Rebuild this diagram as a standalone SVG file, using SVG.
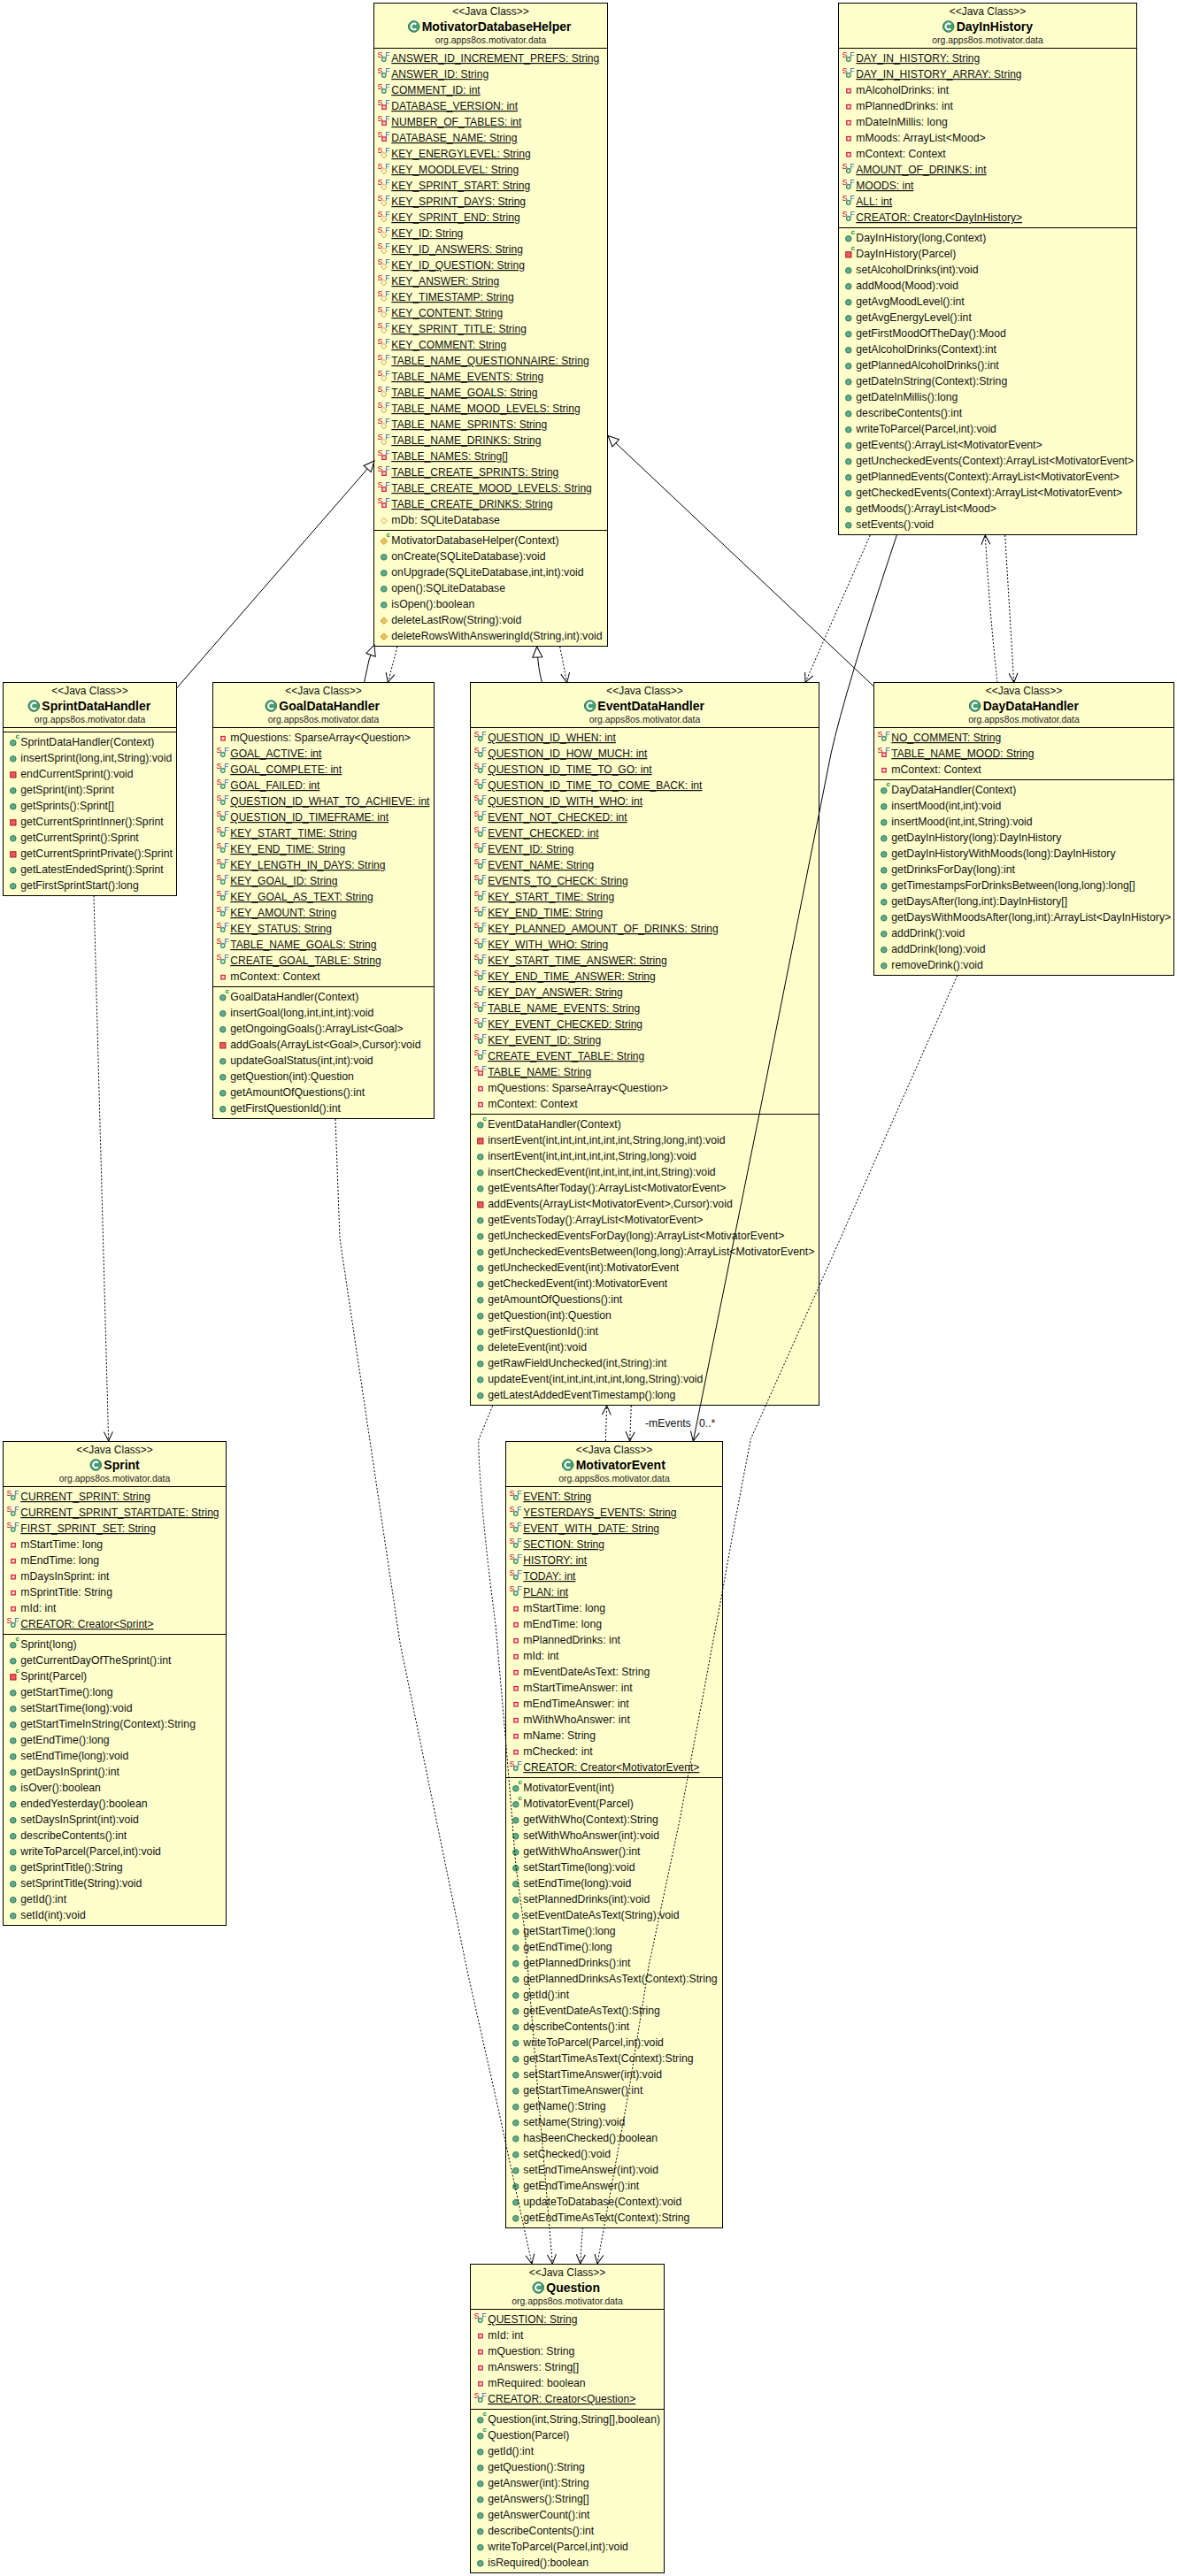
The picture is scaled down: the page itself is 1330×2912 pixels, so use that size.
<svg xmlns="http://www.w3.org/2000/svg" width="1330" height="2912" viewBox="0 0 1330 2912">
<style>
text{font-family:"Liberation Sans",Arial,sans-serif;font-size:12.25px;fill:#111}
.u{font-size:12.05px;text-decoration:underline}
.s{text-anchor:middle;font-size:12px}
.p{text-anchor:middle;font-size:10.4px;fill:#222}
.t{font-weight:bold;font-size:14px;fill:#000}
.box{fill:#ffffcc;stroke:#000;stroke-width:1}
.d{stroke:#000;stroke-width:1;fill:none}
.iS{font-size:9px;fill:#c8003c}
.iF{font-size:9px;fill:#2a66b8}
.ic{font-size:8px;font-weight:bold;fill:#0a8a3c}
.con{fill:none;stroke:#000;stroke-width:1}
.dep{stroke-dasharray:2 2;marker-end:url(#v)}
.gen{marker-end:url(#tri)}
.ass{marker-end:url(#v)}
</style>
<defs>
<marker id="v" markerUnits="userSpaceOnUse" markerWidth="14" markerHeight="14" refX="12" refY="7" orient="auto"><path d="M1.5,2 L12,7 L1.5,12" fill="none" stroke="#000"/></marker>
<marker id="tri" markerUnits="userSpaceOnUse" markerWidth="16" markerHeight="16" refX="14" refY="8" orient="auto"><path d="M2,2.5 L14,8 L2,13.5 Z" fill="#fff" stroke="#000"/></marker>
<g id="ring"><circle cx="11.3" cy="12.5" r="2.3" fill="#d8eedc" stroke="#2e8b60" stroke-width="1.2"/></g>
<g id="sq"><rect x="9.3" y="10" width="4.4" height="4.4" fill="#fbdada" stroke="#d8213c" stroke-width="1.3"/></g>
<g id="dia"><path d="M11.3,8.8 L14.6,12.1 L11.3,15.4 L8,12.1 Z" fill="#fff8d8" stroke="#d49a30"/></g>
<g id="S"><text class="iS" x="4.1" y="10.5">S</text><text class="iF" x="12.8" y="10">F</text></g>
<g id="sfu"><use href="#S"/><use href="#ring"/></g>
<g id="sfp"><use href="#S"/><use href="#sq" y="0.5"/></g>
<g id="sfd"><use href="#S"/><use href="#dia" y="1"/></g>
<g id="fp"><use href="#sq"/></g>
<g id="fd"><use href="#dia"/></g>
<g id="mu"><circle cx="11.3" cy="12.3" r="3.3" fill="#62ab8a" stroke="#2f7d5c"/></g>
<g id="mp"><rect x="8.2" y="9.2" width="6.3" height="6.3" fill="#e85c5c" stroke="#b31c2c"/></g>
<g id="md"><path d="M11.3,8.4 L15,12.3 L11.3,16 L7.6,12.3 Z" fill="#f2c35e" stroke="#c99020"/></g>
<g id="c"><text class="ic" x="14" y="7.5">c</text></g>
<g id="cu"><use href="#mu"/><use href="#c"/></g>
<g id="cp"><use href="#mp"/><use href="#c"/></g>
<g id="cd"><use href="#md"/><use href="#c"/></g>
<g id="cl"><circle r="6.3" fill="#4a9c74" stroke="#2c7a56"/><path d="M2.6,-2.4 A3.4,3.4 0 1 0 2.6,2.4" fill="none" stroke="#fff" stroke-width="2"/></g>
</defs>
<rect width="1330" height="2912" fill="#fff"/>

<g id="MotivatorDatabaseHelper">
<rect class="box" x="422.5" y="3.5" width="264" height="727"/>
<path class="d" d="M422.5,54.5H686.5M422.5,599.5H686.5"/>
<text class="s" x="554.5" y="17">&lt;&lt;Java Class&gt;&gt;</text>
<use href="#cl" x="467.7" y="30"/><text class="t" x="476.7" y="35">MotivatorDatabaseHelper</text>
<text class="p" x="554.5" y="49">org.apps8os.motivator.data</text>
<g transform="translate(422.5,54.5)">
<use href="#sfu"/><text class="u" x="19.8" y="15.5">ANSWER_ID_INCREMENT_PREFS: String</text>
<use href="#sfu" y="18"/><text class="u" x="19.8" y="33.5">ANSWER_ID: String</text>
<use href="#sfu" y="36"/><text class="u" x="19.8" y="51.5">COMMENT_ID: int</text>
<use href="#sfp" y="54"/><text class="u" x="19.8" y="69.5">DATABASE_VERSION: int</text>
<use href="#sfp" y="72"/><text class="u" x="19.8" y="87.5">NUMBER_OF_TABLES: int</text>
<use href="#sfp" y="90"/><text class="u" x="19.8" y="105.5">DATABASE_NAME: String</text>
<use href="#sfd" y="108"/><text class="u" x="19.8" y="123.5">KEY_ENERGYLEVEL: String</text>
<use href="#sfd" y="126"/><text class="u" x="19.8" y="141.5">KEY_MOODLEVEL: String</text>
<use href="#sfd" y="144"/><text class="u" x="19.8" y="159.5">KEY_SPRINT_START: String</text>
<use href="#sfd" y="162"/><text class="u" x="19.8" y="177.5">KEY_SPRINT_DAYS: String</text>
<use href="#sfd" y="180"/><text class="u" x="19.8" y="195.5">KEY_SPRINT_END: String</text>
<use href="#sfd" y="198"/><text class="u" x="19.8" y="213.5">KEY_ID: String</text>
<use href="#sfd" y="216"/><text class="u" x="19.8" y="231.5">KEY_ID_ANSWERS: String</text>
<use href="#sfd" y="234"/><text class="u" x="19.8" y="249.5">KEY_ID_QUESTION: String</text>
<use href="#sfd" y="252"/><text class="u" x="19.8" y="267.5">KEY_ANSWER: String</text>
<use href="#sfd" y="270"/><text class="u" x="19.8" y="285.5">KEY_TIMESTAMP: String</text>
<use href="#sfd" y="288"/><text class="u" x="19.8" y="303.5">KEY_CONTENT: String</text>
<use href="#sfd" y="306"/><text class="u" x="19.8" y="321.5">KEY_SPRINT_TITLE: String</text>
<use href="#sfd" y="324"/><text class="u" x="19.8" y="339.5">KEY_COMMENT: String</text>
<use href="#sfd" y="342"/><text class="u" x="19.8" y="357.5">TABLE_NAME_QUESTIONNAIRE: String</text>
<use href="#sfd" y="360"/><text class="u" x="19.8" y="375.5">TABLE_NAME_EVENTS: String</text>
<use href="#sfd" y="378"/><text class="u" x="19.8" y="393.5">TABLE_NAME_GOALS: String</text>
<use href="#sfd" y="396"/><text class="u" x="19.8" y="411.5">TABLE_NAME_MOOD_LEVELS: String</text>
<use href="#sfd" y="414"/><text class="u" x="19.8" y="429.5">TABLE_NAME_SPRINTS: String</text>
<use href="#sfd" y="432"/><text class="u" x="19.8" y="447.5">TABLE_NAME_DRINKS: String</text>
<use href="#sfp" y="450"/><text class="u" x="19.8" y="465.5">TABLE_NAMES: String[]</text>
<use href="#sfp" y="468"/><text class="u" x="19.8" y="483.5">TABLE_CREATE_SPRINTS: String</text>
<use href="#sfp" y="486"/><text class="u" x="19.8" y="501.5">TABLE_CREATE_MOOD_LEVELS: String</text>
<use href="#sfp" y="504"/><text class="u" x="19.8" y="519.5">TABLE_CREATE_DRINKS: String</text>
<use href="#fd" y="522"/><text x="19.8" y="537.5">mDb: SQLiteDatabase</text>
</g>
<g transform="translate(422.5,599.5)">
<use href="#cd"/><text x="19.8" y="15.5">MotivatorDatabaseHelper(Context)</text>
<use href="#mu" y="18"/><text x="19.8" y="33.5">onCreate(SQLiteDatabase):void</text>
<use href="#mu" y="36"/><text x="19.8" y="51.5">onUpgrade(SQLiteDatabase,int,int):void</text>
<use href="#mu" y="54"/><text x="19.8" y="69.5">open():SQLiteDatabase</text>
<use href="#mu" y="72"/><text x="19.8" y="87.5">isOpen():boolean</text>
<use href="#md" y="90"/><text x="19.8" y="105.5">deleteLastRow(String):void</text>
<use href="#md" y="108"/><text x="19.8" y="123.5">deleteRowsWithAnsweringId(String,int):void</text>
</g>
</g>

<g id="DayInHistory">
<rect class="box" x="947.5" y="3.5" width="337" height="601"/>
<path class="d" d="M947.5,54.5H1284.5M947.5,257.5H1284.5"/>
<text class="s" x="1116" y="17">&lt;&lt;Java Class&gt;&gt;</text>
<use href="#cl" x="1071.7" y="30"/><text class="t" x="1080.7" y="35">DayInHistory</text>
<text class="p" x="1116" y="49">org.apps8os.motivator.data</text>
<g transform="translate(947.5,54.5)">
<use href="#sfu"/><text class="u" x="19.8" y="15.5">DAY_IN_HISTORY: String</text>
<use href="#sfu" y="18"/><text class="u" x="19.8" y="33.5">DAY_IN_HISTORY_ARRAY: String</text>
<use href="#fp" y="36"/><text x="19.8" y="51.5">mAlcoholDrinks: int</text>
<use href="#fp" y="54"/><text x="19.8" y="69.5">mPlannedDrinks: int</text>
<use href="#fp" y="72"/><text x="19.8" y="87.5">mDateInMillis: long</text>
<use href="#fp" y="90"/><text x="19.8" y="105.5">mMoods: ArrayList&lt;Mood&gt;</text>
<use href="#fp" y="108"/><text x="19.8" y="123.5">mContext: Context</text>
<use href="#sfu" y="126"/><text class="u" x="19.8" y="141.5">AMOUNT_OF_DRINKS: int</text>
<use href="#sfu" y="144"/><text class="u" x="19.8" y="159.5">MOODS: int</text>
<use href="#sfu" y="162"/><text class="u" x="19.8" y="177.5">ALL: int</text>
<use href="#sfu" y="180"/><text class="u" x="19.8" y="195.5">CREATOR: Creator&lt;DayInHistory&gt;</text>
</g>
<g transform="translate(947.5,257.5)">
<use href="#cu"/><text x="19.8" y="15.5">DayInHistory(long,Context)</text>
<use href="#cp" y="18"/><text x="19.8" y="33.5">DayInHistory(Parcel)</text>
<use href="#mu" y="36"/><text x="19.8" y="51.5">setAlcoholDrinks(int):void</text>
<use href="#mu" y="54"/><text x="19.8" y="69.5">addMood(Mood):void</text>
<use href="#mu" y="72"/><text x="19.8" y="87.5">getAvgMoodLevel():int</text>
<use href="#mu" y="90"/><text x="19.8" y="105.5">getAvgEnergyLevel():int</text>
<use href="#mu" y="108"/><text x="19.8" y="123.5">getFirstMoodOfTheDay():Mood</text>
<use href="#mu" y="126"/><text x="19.8" y="141.5">getAlcoholDrinks(Context):int</text>
<use href="#mu" y="144"/><text x="19.8" y="159.5">getPlannedAlcoholDrinks():int</text>
<use href="#mu" y="162"/><text x="19.8" y="177.5">getDateInString(Context):String</text>
<use href="#mu" y="180"/><text x="19.8" y="195.5">getDateInMillis():long</text>
<use href="#mu" y="198"/><text x="19.8" y="213.5">describeContents():int</text>
<use href="#mu" y="216"/><text x="19.8" y="231.5">writeToParcel(Parcel,int):void</text>
<use href="#mu" y="234"/><text x="19.8" y="249.5">getEvents():ArrayList&lt;MotivatorEvent&gt;</text>
<use href="#mu" y="252"/><text x="19.8" y="267.5">getUncheckedEvents(Context):ArrayList&lt;MotivatorEvent&gt;</text>
<use href="#mu" y="270"/><text x="19.8" y="285.5">getPlannedEvents(Context):ArrayList&lt;MotivatorEvent&gt;</text>
<use href="#mu" y="288"/><text x="19.8" y="303.5">getCheckedEvents(Context):ArrayList&lt;MotivatorEvent&gt;</text>
<use href="#mu" y="306"/><text x="19.8" y="321.5">getMoods():ArrayList&lt;Mood&gt;</text>
<use href="#mu" y="324"/><text x="19.8" y="339.5">setEvents():void</text>
</g>
</g>

<g id="SprintDataHandler">
<rect class="box" x="3.5" y="771.5" width="196" height="241"/>
<path class="d" d="M3.5,822.5H199.5M3.5,827.5H199.5"/>
<text class="s" x="101.5" y="785">&lt;&lt;Java Class&gt;&gt;</text>
<use href="#cl" x="38.3" y="798"/><text class="t" x="47.3" y="803">SprintDataHandler</text>
<text class="p" x="101.5" y="817">org.apps8os.motivator.data</text>
<g transform="translate(3.5,827.5)">
<use href="#cu"/><text x="19.8" y="15.5">SprintDataHandler(Context)</text>
<use href="#mu" y="18"/><text x="19.8" y="33.5">insertSprint(long,int,String):void</text>
<use href="#mp" y="36"/><text x="19.8" y="51.5">endCurrentSprint():void</text>
<use href="#mu" y="54"/><text x="19.8" y="69.5">getSprint(int):Sprint</text>
<use href="#mu" y="72"/><text x="19.8" y="87.5">getSprints():Sprint[]</text>
<use href="#mp" y="90"/><text x="19.8" y="105.5">getCurrentSprintInner():Sprint</text>
<use href="#mu" y="108"/><text x="19.8" y="123.5">getCurrentSprint():Sprint</text>
<use href="#mp" y="126"/><text x="19.8" y="141.5">getCurrentSprintPrivate():Sprint</text>
<use href="#mu" y="144"/><text x="19.8" y="159.5">getLatestEndedSprint():Sprint</text>
<use href="#mu" y="162"/><text x="19.8" y="177.5">getFirstSprintStart():long</text>
</g>
</g>

<g id="GoalDataHandler">
<rect class="box" x="240.5" y="771.5" width="250" height="493"/>
<path class="d" d="M240.5,822.5H490.5M240.5,1115.5H490.5"/>
<text class="s" x="365.5" y="785">&lt;&lt;Java Class&gt;&gt;</text>
<use href="#cl" x="306.3" y="798"/><text class="t" x="315.3" y="803">GoalDataHandler</text>
<text class="p" x="365.5" y="817">org.apps8os.motivator.data</text>
<g transform="translate(240.5,822.5)">
<use href="#fp"/><text x="19.8" y="15.5">mQuestions: SparseArray&lt;Question&gt;</text>
<use href="#sfu" y="18"/><text class="u" x="19.8" y="33.5">GOAL_ACTIVE: int</text>
<use href="#sfu" y="36"/><text class="u" x="19.8" y="51.5">GOAL_COMPLETE: int</text>
<use href="#sfu" y="54"/><text class="u" x="19.8" y="69.5">GOAL_FAILED: int</text>
<use href="#sfu" y="72"/><text class="u" x="19.8" y="87.5">QUESTION_ID_WHAT_TO_ACHIEVE: int</text>
<use href="#sfu" y="90"/><text class="u" x="19.8" y="105.5">QUESTION_ID_TIMEFRAME: int</text>
<use href="#sfu" y="108"/><text class="u" x="19.8" y="123.5">KEY_START_TIME: String</text>
<use href="#sfu" y="126"/><text class="u" x="19.8" y="141.5">KEY_END_TIME: String</text>
<use href="#sfu" y="144"/><text class="u" x="19.8" y="159.5">KEY_LENGTH_IN_DAYS: String</text>
<use href="#sfu" y="162"/><text class="u" x="19.8" y="177.5">KEY_GOAL_ID: String</text>
<use href="#sfu" y="180"/><text class="u" x="19.8" y="195.5">KEY_GOAL_AS_TEXT: String</text>
<use href="#sfu" y="198"/><text class="u" x="19.8" y="213.5">KEY_AMOUNT: String</text>
<use href="#sfu" y="216"/><text class="u" x="19.8" y="231.5">KEY_STATUS: String</text>
<use href="#sfu" y="234"/><text class="u" x="19.8" y="249.5">TABLE_NAME_GOALS: String</text>
<use href="#sfu" y="252"/><text class="u" x="19.8" y="267.5">CREATE_GOAL_TABLE: String</text>
<use href="#fp" y="270"/><text x="19.8" y="285.5">mContext: Context</text>
</g>
<g transform="translate(240.5,1115.5)">
<use href="#cu"/><text x="19.8" y="15.5">GoalDataHandler(Context)</text>
<use href="#mu" y="18"/><text x="19.8" y="33.5">insertGoal(long,int,int,int):void</text>
<use href="#mu" y="36"/><text x="19.8" y="51.5">getOngoingGoals():ArrayList&lt;Goal&gt;</text>
<use href="#mp" y="54"/><text x="19.8" y="69.5">addGoals(ArrayList&lt;Goal&gt;,Cursor):void</text>
<use href="#mu" y="72"/><text x="19.8" y="87.5">updateGoalStatus(int,int):void</text>
<use href="#mu" y="90"/><text x="19.8" y="105.5">getQuestion(int):Question</text>
<use href="#mu" y="108"/><text x="19.8" y="123.5">getAmountOfQuestions():int</text>
<use href="#mu" y="126"/><text x="19.8" y="141.5">getFirstQuestionId():int</text>
</g>
</g>

<g id="EventDataHandler">
<rect class="box" x="531.5" y="771.5" width="394" height="817"/>
<path class="d" d="M531.5,822.5H925.5M531.5,1259.5H925.5"/>
<text class="s" x="728.5" y="785">&lt;&lt;Java Class&gt;&gt;</text>
<use href="#cl" x="666.7" y="798"/><text class="t" x="675.3" y="803">EventDataHandler</text>
<text class="p" x="728.5" y="817">org.apps8os.motivator.data</text>
<g transform="translate(531.5,822.5)">
<use href="#sfu"/><text class="u" x="19.8" y="15.5">QUESTION_ID_WHEN: int</text>
<use href="#sfu" y="18"/><text class="u" x="19.8" y="33.5">QUESTION_ID_HOW_MUCH: int</text>
<use href="#sfu" y="36"/><text class="u" x="19.8" y="51.5">QUESTION_ID_TIME_TO_GO: int</text>
<use href="#sfu" y="54"/><text class="u" x="19.8" y="69.5">QUESTION_ID_TIME_TO_COME_BACK: int</text>
<use href="#sfu" y="72"/><text class="u" x="19.8" y="87.5">QUESTION_ID_WITH_WHO: int</text>
<use href="#sfu" y="90"/><text class="u" x="19.8" y="105.5">EVENT_NOT_CHECKED: int</text>
<use href="#sfu" y="108"/><text class="u" x="19.8" y="123.5">EVENT_CHECKED: int</text>
<use href="#sfu" y="126"/><text class="u" x="19.8" y="141.5">EVENT_ID: String</text>
<use href="#sfu" y="144"/><text class="u" x="19.8" y="159.5">EVENT_NAME: String</text>
<use href="#sfu" y="162"/><text class="u" x="19.8" y="177.5">EVENTS_TO_CHECK: String</text>
<use href="#sfu" y="180"/><text class="u" x="19.8" y="195.5">KEY_START_TIME: String</text>
<use href="#sfu" y="198"/><text class="u" x="19.8" y="213.5">KEY_END_TIME: String</text>
<use href="#sfu" y="216"/><text class="u" x="19.8" y="231.5">KEY_PLANNED_AMOUNT_OF_DRINKS: String</text>
<use href="#sfu" y="234"/><text class="u" x="19.8" y="249.5">KEY_WITH_WHO: String</text>
<use href="#sfu" y="252"/><text class="u" x="19.8" y="267.5">KEY_START_TIME_ANSWER: String</text>
<use href="#sfu" y="270"/><text class="u" x="19.8" y="285.5">KEY_END_TIME_ANSWER: String</text>
<use href="#sfu" y="288"/><text class="u" x="19.8" y="303.5">KEY_DAY_ANSWER: String</text>
<use href="#sfu" y="306"/><text class="u" x="19.8" y="321.5">TABLE_NAME_EVENTS: String</text>
<use href="#sfu" y="324"/><text class="u" x="19.8" y="339.5">KEY_EVENT_CHECKED: String</text>
<use href="#sfu" y="342"/><text class="u" x="19.8" y="357.5">KEY_EVENT_ID: String</text>
<use href="#sfu" y="360"/><text class="u" x="19.8" y="375.5">CREATE_EVENT_TABLE: String</text>
<use href="#sfp" y="378"/><text class="u" x="19.8" y="393.5">TABLE_NAME: String</text>
<use href="#fp" y="396"/><text x="19.8" y="411.5">mQuestions: SparseArray&lt;Question&gt;</text>
<use href="#fp" y="414"/><text x="19.8" y="429.5">mContext: Context</text>
</g>
<g transform="translate(531.5,1259.5)">
<use href="#cu"/><text x="19.8" y="15.5">EventDataHandler(Context)</text>
<use href="#mp" y="18"/><text x="19.8" y="33.5">insertEvent(int,int,int,int,int,int,String,long,int):void</text>
<use href="#mu" y="36"/><text x="19.8" y="51.5">insertEvent(int,int,int,int,int,String,long):void</text>
<use href="#mu" y="54"/><text x="19.8" y="69.5">insertCheckedEvent(int,int,int,int,int,String):void</text>
<use href="#mu" y="72"/><text x="19.8" y="87.5">getEventsAfterToday():ArrayList&lt;MotivatorEvent&gt;</text>
<use href="#mp" y="90"/><text x="19.8" y="105.5">addEvents(ArrayList&lt;MotivatorEvent&gt;,Cursor):void</text>
<use href="#mu" y="108"/><text x="19.8" y="123.5">getEventsToday():ArrayList&lt;MotivatorEvent&gt;</text>
<use href="#mu" y="126"/><text x="19.8" y="141.5">getUncheckedEventsForDay(long):ArrayList&lt;MotivatorEvent&gt;</text>
<use href="#mu" y="144"/><text x="19.8" y="159.5">getUncheckedEventsBetween(long,long):ArrayList&lt;MotivatorEvent&gt;</text>
<use href="#mu" y="162"/><text x="19.8" y="177.5">getUncheckedEvent(int):MotivatorEvent</text>
<use href="#mu" y="180"/><text x="19.8" y="195.5">getCheckedEvent(int):MotivatorEvent</text>
<use href="#mu" y="198"/><text x="19.8" y="213.5">getAmountOfQuestions():int</text>
<use href="#mu" y="216"/><text x="19.8" y="231.5">getQuestion(int):Question</text>
<use href="#mu" y="234"/><text x="19.8" y="249.5">getFirstQuestionId():int</text>
<use href="#mu" y="252"/><text x="19.8" y="267.5">deleteEvent(int):void</text>
<use href="#mu" y="270"/><text x="19.8" y="285.5">getRawFieldUnchecked(int,String):int</text>
<use href="#mu" y="288"/><text x="19.8" y="303.5">updateEvent(int,int,int,int,int,long,String):void</text>
<use href="#mu" y="306"/><text x="19.8" y="321.5">getLatestAddedEventTimestamp():long</text>
</g>
</g>

<g id="DayDataHandler">
<rect class="box" x="987.5" y="771.5" width="339" height="331"/>
<path class="d" d="M987.5,822.5H1326.5M987.5,881.5H1326.5"/>
<text class="s" x="1157" y="785">&lt;&lt;Java Class&gt;&gt;</text>
<use href="#cl" x="1101.7" y="798"/><text class="t" x="1110.7" y="803">DayDataHandler</text>
<text class="p" x="1157" y="817">org.apps8os.motivator.data</text>
<g transform="translate(987.5,822.5)">
<use href="#sfu"/><text class="u" x="19.8" y="15.5">NO_COMMENT: String</text>
<use href="#sfp" y="18"/><text class="u" x="19.8" y="33.5">TABLE_NAME_MOOD: String</text>
<use href="#fp" y="36"/><text x="19.8" y="51.5">mContext: Context</text>
</g>
<g transform="translate(987.5,881.5)">
<use href="#cu"/><text x="19.8" y="15.5">DayDataHandler(Context)</text>
<use href="#mu" y="18"/><text x="19.8" y="33.5">insertMood(int,int):void</text>
<use href="#mu" y="36"/><text x="19.8" y="51.5">insertMood(int,int,String):void</text>
<use href="#mu" y="54"/><text x="19.8" y="69.5">getDayInHistory(long):DayInHistory</text>
<use href="#mu" y="72"/><text x="19.8" y="87.5">getDayInHistoryWithMoods(long):DayInHistory</text>
<use href="#mu" y="90"/><text x="19.8" y="105.5">getDrinksForDay(long):int</text>
<use href="#mu" y="108"/><text x="19.8" y="123.5">getTimestampsForDrinksBetween(long,long):long[]</text>
<use href="#mu" y="126"/><text x="19.8" y="141.5">getDaysAfter(long,int):DayInHistory[]</text>
<use href="#mu" y="144"/><text x="19.8" y="159.5">getDaysWithMoodsAfter(long,int):ArrayList&lt;DayInHistory&gt;</text>
<use href="#mu" y="162"/><text x="19.8" y="177.5">addDrink():void</text>
<use href="#mu" y="180"/><text x="19.8" y="195.5">addDrink(long):void</text>
<use href="#mu" y="198"/><text x="19.8" y="213.5">removeDrink():void</text>
</g>
</g>

<g id="Sprint">
<rect class="box" x="3.5" y="1629.5" width="252" height="547"/>
<path class="d" d="M3.5,1680.5H255.5M3.5,1847.5H255.5"/>
<text class="s" x="129.5" y="1643">&lt;&lt;Java Class&gt;&gt;</text>
<use href="#cl" x="108.3" y="1656"/><text class="t" x="117.3" y="1661">Sprint</text>
<text class="p" x="129.5" y="1675">org.apps8os.motivator.data</text>
<g transform="translate(3.5,1680.5)">
<use href="#sfu"/><text class="u" x="19.8" y="15.5">CURRENT_SPRINT: String</text>
<use href="#sfu" y="18"/><text class="u" x="19.8" y="33.5">CURRENT_SPRINT_STARTDATE: String</text>
<use href="#sfu" y="36"/><text class="u" x="19.8" y="51.5">FIRST_SPRINT_SET: String</text>
<use href="#fp" y="54"/><text x="19.8" y="69.5">mStartTime: long</text>
<use href="#fp" y="72"/><text x="19.8" y="87.5">mEndTime: long</text>
<use href="#fp" y="90"/><text x="19.8" y="105.5">mDaysInSprint: int</text>
<use href="#fp" y="108"/><text x="19.8" y="123.5">mSprintTitle: String</text>
<use href="#fp" y="126"/><text x="19.8" y="141.5">mId: int</text>
<use href="#sfu" y="144"/><text class="u" x="19.8" y="159.5">CREATOR: Creator&lt;Sprint&gt;</text>
</g>
<g transform="translate(3.5,1847.5)">
<use href="#cu"/><text x="19.8" y="15.5">Sprint(long)</text>
<use href="#mu" y="18"/><text x="19.8" y="33.5">getCurrentDayOfTheSprint():int</text>
<use href="#cp" y="36"/><text x="19.8" y="51.5">Sprint(Parcel)</text>
<use href="#mu" y="54"/><text x="19.8" y="69.5">getStartTime():long</text>
<use href="#mu" y="72"/><text x="19.8" y="87.5">setStartTime(long):void</text>
<use href="#mu" y="90"/><text x="19.8" y="105.5">getStartTimeInString(Context):String</text>
<use href="#mu" y="108"/><text x="19.8" y="123.5">getEndTime():long</text>
<use href="#mu" y="126"/><text x="19.8" y="141.5">setEndTime(long):void</text>
<use href="#mu" y="144"/><text x="19.8" y="159.5">getDaysInSprint():int</text>
<use href="#mu" y="162"/><text x="19.8" y="177.5">isOver():boolean</text>
<use href="#mu" y="180"/><text x="19.8" y="195.5">endedYesterday():boolean</text>
<use href="#mu" y="198"/><text x="19.8" y="213.5">setDaysInSprint(int):void</text>
<use href="#mu" y="216"/><text x="19.8" y="231.5">describeContents():int</text>
<use href="#mu" y="234"/><text x="19.8" y="249.5">writeToParcel(Parcel,int):void</text>
<use href="#mu" y="252"/><text x="19.8" y="267.5">getSprintTitle():String</text>
<use href="#mu" y="270"/><text x="19.8" y="285.5">setSprintTitle(String):void</text>
<use href="#mu" y="288"/><text x="19.8" y="303.5">getId():int</text>
<use href="#mu" y="306"/><text x="19.8" y="321.5">setId(int):void</text>
</g>
</g>

<g id="MotivatorEvent">
<rect class="box" x="571.5" y="1629.5" width="245" height="889"/>
<path class="d" d="M571.5,1680.5H816.5M571.5,2009.5H816.5"/>
<text class="s" x="694" y="1643">&lt;&lt;Java Class&gt;&gt;</text>
<use href="#cl" x="641.7" y="1656"/><text class="t" x="650.7" y="1661">MotivatorEvent</text>
<text class="p" x="694" y="1675">org.apps8os.motivator.data</text>
<g transform="translate(571.5,1680.5)">
<use href="#sfu"/><text class="u" x="19.8" y="15.5">EVENT: String</text>
<use href="#sfu" y="18"/><text class="u" x="19.8" y="33.5">YESTERDAYS_EVENTS: String</text>
<use href="#sfu" y="36"/><text class="u" x="19.8" y="51.5">EVENT_WITH_DATE: String</text>
<use href="#sfu" y="54"/><text class="u" x="19.8" y="69.5">SECTION: String</text>
<use href="#sfu" y="72"/><text class="u" x="19.8" y="87.5">HISTORY: int</text>
<use href="#sfu" y="90"/><text class="u" x="19.8" y="105.5">TODAY: int</text>
<use href="#sfu" y="108"/><text class="u" x="19.8" y="123.5">PLAN: int</text>
<use href="#fp" y="126"/><text x="19.8" y="141.5">mStartTime: long</text>
<use href="#fp" y="144"/><text x="19.8" y="159.5">mEndTime: long</text>
<use href="#fp" y="162"/><text x="19.8" y="177.5">mPlannedDrinks: int</text>
<use href="#fp" y="180"/><text x="19.8" y="195.5">mId: int</text>
<use href="#fp" y="198"/><text x="19.8" y="213.5">mEventDateAsText: String</text>
<use href="#fp" y="216"/><text x="19.8" y="231.5">mStartTimeAnswer: int</text>
<use href="#fp" y="234"/><text x="19.8" y="249.5">mEndTimeAnswer: int</text>
<use href="#fp" y="252"/><text x="19.8" y="267.5">mWithWhoAnswer: int</text>
<use href="#fp" y="270"/><text x="19.8" y="285.5">mName: String</text>
<use href="#fp" y="288"/><text x="19.8" y="303.5">mChecked: int</text>
<use href="#sfu" y="306"/><text class="u" x="19.8" y="321.5">CREATOR: Creator&lt;MotivatorEvent&gt;</text>
</g>
<g transform="translate(571.5,2009.5)">
<use href="#cu"/><text x="19.8" y="15.5">MotivatorEvent(int)</text>
<use href="#cu" y="18"/><text x="19.8" y="33.5">MotivatorEvent(Parcel)</text>
<use href="#mu" y="36"/><text x="19.8" y="51.5">getWithWho(Context):String</text>
<use href="#mu" y="54"/><text x="19.8" y="69.5">setWithWhoAnswer(int):void</text>
<use href="#mu" y="72"/><text x="19.8" y="87.5">getWithWhoAnswer():int</text>
<use href="#mu" y="90"/><text x="19.8" y="105.5">setStartTime(long):void</text>
<use href="#mu" y="108"/><text x="19.8" y="123.5">setEndTime(long):void</text>
<use href="#mu" y="126"/><text x="19.8" y="141.5">setPlannedDrinks(int):void</text>
<use href="#mu" y="144"/><text x="19.8" y="159.5">setEventDateAsText(String):void</text>
<use href="#mu" y="162"/><text x="19.8" y="177.5">getStartTime():long</text>
<use href="#mu" y="180"/><text x="19.8" y="195.5">getEndTime():long</text>
<use href="#mu" y="198"/><text x="19.8" y="213.5">getPlannedDrinks():int</text>
<use href="#mu" y="216"/><text x="19.8" y="231.5">getPlannedDrinksAsText(Context):String</text>
<use href="#mu" y="234"/><text x="19.8" y="249.5">getId():int</text>
<use href="#mu" y="252"/><text x="19.8" y="267.5">getEventDateAsText():String</text>
<use href="#mu" y="270"/><text x="19.8" y="285.5">describeContents():int</text>
<use href="#mu" y="288"/><text x="19.8" y="303.5">writeToParcel(Parcel,int):void</text>
<use href="#mu" y="306"/><text x="19.8" y="321.5">getStartTimeAsText(Context):String</text>
<use href="#mu" y="324"/><text x="19.8" y="339.5">setStartTimeAnswer(int):void</text>
<use href="#mu" y="342"/><text x="19.8" y="357.5">getStartTimeAnswer():int</text>
<use href="#mu" y="360"/><text x="19.8" y="375.5">getName():String</text>
<use href="#mu" y="378"/><text x="19.8" y="393.5">setName(String):void</text>
<use href="#mu" y="396"/><text x="19.8" y="411.5">hasBeenChecked():boolean</text>
<use href="#mu" y="414"/><text x="19.8" y="429.5">setChecked():void</text>
<use href="#mu" y="432"/><text x="19.8" y="447.5">setEndTimeAnswer(int):void</text>
<use href="#mu" y="450"/><text x="19.8" y="465.5">getEndTimeAnswer():int</text>
<use href="#mu" y="468"/><text x="19.8" y="483.5">updateToDatabase(Context):void</text>
<use href="#mu" y="486"/><text x="19.8" y="501.5">getEndTimeAsText(Context):String</text>
</g>
</g>

<g id="Question">
<rect class="box" x="531.5" y="2559.5" width="219" height="349"/>
<path class="d" d="M531.5,2610.5H750.5M531.5,2723.5H750.5"/>
<text class="s" x="641" y="2573">&lt;&lt;Java Class&gt;&gt;</text>
<use href="#cl" x="608.3" y="2586"/><text class="t" x="617.3" y="2591">Question</text>
<text class="p" x="641" y="2605">org.apps8os.motivator.data</text>
<g transform="translate(531.5,2610.5)">
<use href="#sfu"/><text class="u" x="19.8" y="15.5">QUESTION: String</text>
<use href="#fp" y="18"/><text x="19.8" y="33.5">mId: int</text>
<use href="#fp" y="36"/><text x="19.8" y="51.5">mQuestion: String</text>
<use href="#fp" y="54"/><text x="19.8" y="69.5">mAnswers: String[]</text>
<use href="#fp" y="72"/><text x="19.8" y="87.5">mRequired: boolean</text>
<use href="#sfu" y="90"/><text class="u" x="19.8" y="105.5">CREATOR: Creator&lt;Question&gt;</text>
</g>
<g transform="translate(531.5,2723.5)">
<use href="#cu"/><text x="19.8" y="15.5">Question(int,String,String[],boolean)</text>
<use href="#cu" y="18"/><text x="19.8" y="33.5">Question(Parcel)</text>
<use href="#mu" y="36"/><text x="19.8" y="51.5">getId():int</text>
<use href="#mu" y="54"/><text x="19.8" y="69.5">getQuestion():String</text>
<use href="#mu" y="72"/><text x="19.8" y="87.5">getAnswer(int):String</text>
<use href="#mu" y="90"/><text x="19.8" y="105.5">getAnswers():String[]</text>
<use href="#mu" y="108"/><text x="19.8" y="123.5">getAnswerCount():int</text>
<use href="#mu" y="126"/><text x="19.8" y="141.5">describeContents():int</text>
<use href="#mu" y="144"/><text x="19.8" y="159.5">writeToParcel(Parcel,int):void</text>
<use href="#mu" y="162"/><text x="19.8" y="177.5">isRequired():boolean</text>
</g>
</g>

<g id="connectors">
<path id="e1" class="con gen" d="M199.5,778 L423,521"/>
<path id="e2" class="con gen" d="M411.5,771.5 L417,746 L423,729"/>
<path id="e3" class="con gen" d="M612.5,771.5 Q608,756 606.7,731"/>
<path id="e4" class="con gen" d="M987.5,776 L687,492.5"/>
<path id="e5" class="con dep" d="M449,731 L438.3,771.5"/>
<path id="e6" class="con dep" d="M632.7,731 L640.7,771.5"/>
<path id="e7" class="con dep" d="M983.3,605 L910,771.5"/>
<path id="e8" class="con ass" d="M1013.3,605 Q955,780 939,852 L858.3,1258 L783.3,1629"/>
<path id="e9" class="con dep" d="M684.3,1629 L685.7,1589"/>
<path id="e10" class="con dep" d="M713.3,1589 L711.7,1629"/>
<path id="e11" class="con dep" d="M106,1012.5 L122.7,1629"/>
<path id="e12" class="con dep" d="M379,1265 L384,1400 L452,1857 L528,2228 L560,2370 L601,2559"/>
<path id="e13" class="con dep" d="M556.7,1589 L540.7,1628 Q542,1700 560,1836.7 L571.7,1970 L583,2110 L593,2183 L606.7,2350 L624.3,2559"/>
<path id="e14" class="con dep" d="M658.3,2518.5 L655.7,2559"/>
<path id="e15" class="con dep" d="M1081.7,1103 L940,1421.7 L848.3,1626.7 L830,1723 L816.7,1797 L768,2058 L733,2223 L710,2367 L675,2559"/>
<path id="e16" class="con dep" d="M1127,771.5 Q1118,690 1113.3,605"/>
<path id="e17" class="con dep" d="M1135.7,605 L1145.7,771.5"/>
<text x="729" y="1613">-mEvents</text>
<text x="790" y="1613">0..*</text>
</g>
</svg>
